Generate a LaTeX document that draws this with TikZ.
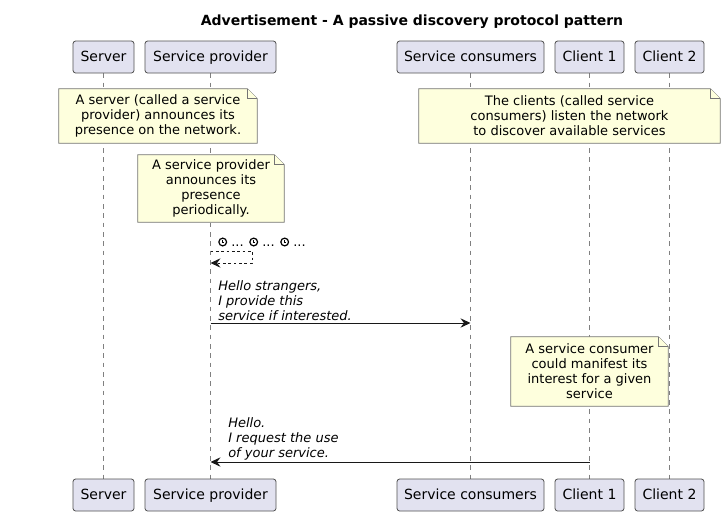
\documentclass[tikz,border=0pt]{standalone}
\usepackage{fontspec}
\setmainfont{DejaVu Sans}
\usetikzlibrary{arrows.meta,backgrounds}
\definecolor{partfill}{HTML}{E2E2F0}
\definecolor{notefill}{HTML}{FEFFDD}
\definecolor{bord}{HTML}{181818}
\newcommand\clk{\tikz[baseline=-3pt,x=1pt,y=1pt]{\draw[line width=0.9pt] (0,0) circle (2.9); \draw[line width=0.6pt] (0,1.7)--(0,0)--(1.3,0);}}
\newcommand\notefold[1]{%
  \begin{scope}[on background layer]
    \filldraw[notebg] (#1.north west) -- ([xshift=-7.5pt]#1.north east) -- ([yshift=-7.5pt]#1.north east) -- (#1.south east) -- (#1.south west) -- cycle;
    \draw[notebg] ([xshift=-7.5pt]#1.north east) |- ([yshift=-7.5pt]#1.north east);
  \end{scope}}
\begin{document}
\begin{tikzpicture}[x=0.75pt,y=-0.75pt,
  part/.style={draw=bord!75, fill=partfill, rounded corners=2pt, minimum height=24pt, inner sep=0pt, text height=9.6pt, text depth=2.3pt, line width=0.6pt, font=\fontsize{10.5pt}{12pt}\selectfont},
  notetext/.style={inner sep=0pt, align=center, font=\fontsize{9.75pt}{11.25pt}\selectfont},
  notebg/.style={fill=notefill, draw=bord!60, line width=0.5pt},
  life/.style={draw=bord!55, line width=0.5pt, dash pattern=on 3.5pt off 3.5pt},
  msgtext/.style={inner sep=0pt, align=left, font=\fontsize{9.75pt}{11.25pt}\selectfont\itshape},
  msg/.style={draw=bord, line width=0.75pt, -{Stealth[length=7.5pt,width=7pt,inset=2.6pt]}},
  selfmsg/.style={msg, dash pattern=on 2pt off 2pt}]
\useasboundingbox (0,0) rectangle (726,515);
\begin{scope}[on background layer]
  \fill[white] (0,0) rectangle (726,515);
\end{scope}

\node[font=\fontsize{10.5pt}{12pt}\selectfont\bfseries] (title) at (412,22) {Advertisement - A passive discovery protocol pattern};

% participants top
\node[part, minimum width=45.75pt] (srv) at (103.5,57) {Server};
\node[part, minimum width=98.25pt] (sp) at (210.5,57) {Service provider};
\node[part, minimum width=110.25pt] (sc) at (470.5,57) {Service consumers};
\node[part, minimum width=51.75pt] (c1) at (589.5,57) {Client 1};
\node[part, minimum width=51.75pt] (c2) at (669.5,57) {Client 2};
% participants bottom
\node[part, minimum width=45.75pt] (srvb) at (103.5,495) {Server};
\node[part, minimum width=98.25pt] (spb) at (210.5,495) {Service provider};
\node[part, minimum width=110.25pt] (scb) at (470.5,495) {Service consumers};
\node[part, minimum width=51.75pt] (c1b) at (589.5,495) {Client 1};
\node[part, minimum width=51.75pt] (c2b) at (669.5,495) {Client 2};

\begin{scope}[on background layer]
  \draw[life] (srv.south) -- (srvb.north);
  \draw[life] (sp.south) -- (spb.north);
  \draw[life] (sc.south) -- (scb.north);
  \draw[life] (c1.south) -- (c1b.north);
  \draw[life] (c2.south) -- (c2b.north);
\end{scope}

% notes
\node[notetext, minimum width=148.5pt, minimum height=40.5pt] (n1) at (158,116) {A server (called a service\\provider) announces its\\presence on the network.};
\notefold{n1}
\node[notetext, minimum width=225.75pt, minimum height=40.5pt] (n2) at (569.5,116) {The clients (called service\\consumers) listen the network\\to discover available services};
\notefold{n2}
\node[notetext, minimum width=109.5pt, minimum height=50.25pt] (n3) at (211,188.5) {A service provider\\announces its\\presence\\periodically.};
\notefold{n3}

% self message
\coordinate (s1) at (210.5,251);
\coordinate (s1r) at (252,251);
\coordinate (s2r) at (252,263);
\coordinate (s2) at (210.5,263);
\node[msgtext, font=\fontsize{9.75pt}{11.25pt}\selectfont, anchor=base west] (st) at (218,246) {\clk{} ... \clk{} ... \clk{} ...};
\draw[selfmsg] (s1) -- (s1r) -- (s2r) -- (s2);

% message 1
\coordinate (m1a) at (210.5,323);
\coordinate (m1b) at (470.5,323);
\node[msgtext, anchor=south west] (m1t) at (218,321) {Hello strangers,\\I provide this\\service if interested.};
\draw[msg] (m1a) -- (m1b);

% note 4
\node[notetext, minimum width=117.75pt, minimum height=51.75pt] (n4) at (589.5,371.5) {A service consumer\\could manifest its\\interest for a given\\service};
\notefold{n4}

% message 2
\coordinate (m2a) at (589.5,462);
\coordinate (m2b) at (210.5,462);
\node[msgtext, anchor=south west] (m2t) at (228,460) {Hello.\\I request the use\\of your service.};
\draw[msg] (m2a) -- (m2b);
\end{tikzpicture}
\end{document}
